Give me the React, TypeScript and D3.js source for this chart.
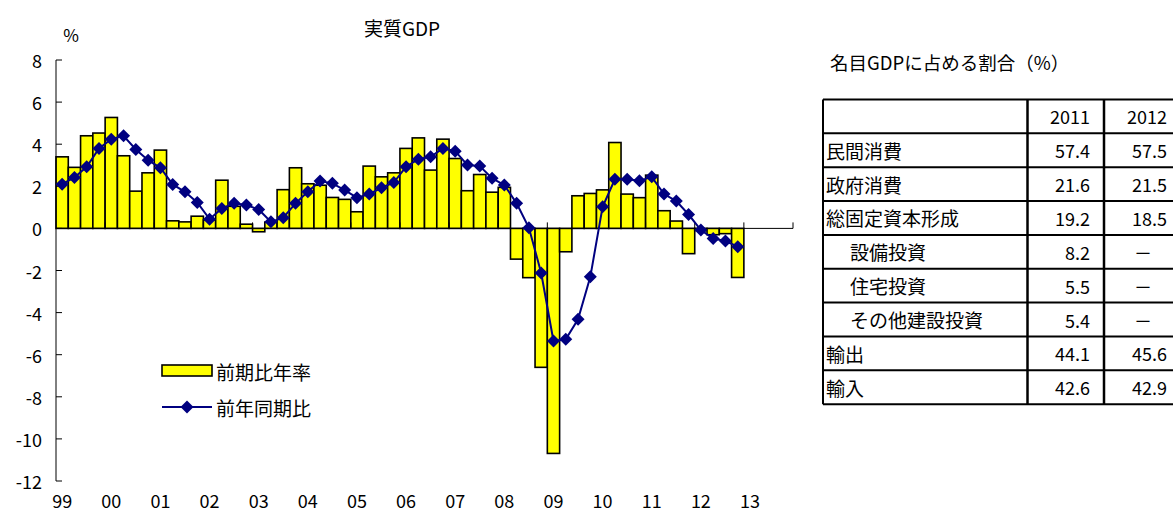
import React from "react";
import * as d3 from "d3";

const yearLabels = ["99", "00", "01", "02", "03", "04", "05", "06", "07", "08", "09", "10", "11", "12", "13"];
const quarters = ["Q1", "Q2", "Q3", "Q4"];
const categories = yearLabels.flatMap((y) => quarters.map((q) => `${y}${q}`));

// 前期比年率 (quarter-on-quarter, annualized), 1999Q1 – 2012Q4
const qoqAnnualized = [
  3.4, 2.9, 4.4, 4.53, 5.27, 3.45, 1.77, 2.64, 3.72, 0.36, 0.31, 0.58,
  0.4, 2.29, 1.05, 0.2, -0.16, 0.3, 1.84, 2.88, 2.12, 2.05, 1.47, 1.38,
  0.79, 2.96, 2.45, 2.64, 3.8, 4.3, 2.77, 4.24, 3.32, 1.79, 2.56, 1.72,
  1.95, -1.46, -2.34, -6.6, -10.69, -1.11, 1.55, 1.66, 1.83, 4.08, 1.63, 1.46,
  2.53, 0.84, 0.35, -1.2, -0.1, -0.3, -0.25, -2.33,
];
// 前年同期比 (year-on-year)
const yoy = [
  2.1, 2.42, 2.93, 3.8, 4.24, 4.4, 3.75, 3.24, 2.88, 2.09, 1.74, 1.23,
  0.44, 0.95, 1.19, 1.11, 0.9, 0.31, 0.51, 1.19, 1.74, 2.25, 2.14, 1.82,
  1.46, 1.63, 1.93, 2.18, 2.93, 3.29, 3.4, 3.8, 3.67, 3.01, 2.96, 2.38,
  2.06, 1.19, 0.03, -2.12, -5.35, -5.27, -4.32, -2.3, 1.03, 2.33, 2.33, 2.26,
  2.45, 1.63, 1.3, 0.66, -0.08, -0.48, -0.6, -0.87,
];
const yTicks = [8, 6, 4, 2, 0, -2, -4, -6, -8, -10, -12];

const seriesNames = ["前期比年率", "前年同期比"];

// Table
const tableTitle = "名目GDPに占める割合（%）";
const tableYears = ["2011", "2012"];
const tableRows = ["民間消費", "政府消費", "総固定資本形成", "設備投資", "住宅投資", "その他建設投資", "輸出", "輸入"];
const tableIndent = [false, false, false, true, true, true, false, false];
const values2011 = ["57.4", "21.6", "19.2", "8.2", "5.5", "5.4", "44.1", "42.6"];
const values2012 = ["57.5", "21.5", "18.5", "－", "－", "－", "45.6", "42.9"];

const FONT = "'Noto Sans CJK JP', 'Noto Sans', sans-serif";

export default function App() {
  const W = 1173;
  const H = 514;
  const x = d3.scaleBand<string>().domain(categories).range([56, 793]).padding(0);
  const y = d3.scaleLinear().domain([-12, 8]).range([481, 60]);
  const bw = x.bandwidth();
  const cx = (i: number) => (x(categories[i]) as number) + bw / 2;

  const line = d3
    .line<number>()
    .x((_, i) => cx(i))
    .y((d) => y(d));

  const diamond = (px: number, py: number, r = 6.5) =>
    `M${px},${py - r}L${px + r},${py}L${px},${py + r}L${px - r},${py}Z`;

  // table geometry
  const colX = [823, 1027.5, 1104, 1180];
  const rowY0 = 99.5;
  const rowH = 33.85;
  const nRows = tableRows.length + 1;

  return (
    <svg
      width={W}
      height={H}
      style={{ position: "absolute", left: 0, top: 0, display: "block", background: "#fff" }}
      fontFamily={FONT}
    >
      <rect x={0} y={0} width={W} height={H} fill="#fff" />
      {/* title */}
      <text x={402} y={27} fontSize={19} textAnchor="middle" dominantBaseline="central" fill="#000">
        実質GDP
      </text>
      <text x={71} y={34} fontSize={17} textAnchor="middle" dominantBaseline="central" fill="#000">
        %
      </text>

      {/* bars */}
      {qoqAnnualized.map((v, i) => (
        <rect
          key={"b" + i}
          x={x(categories[i])}
          y={Math.min(y(v), y(0))}
          width={bw}
          height={Math.abs(y(v) - y(0))}
          fill="#ffff00"
          stroke="#000"
          strokeWidth={1.6}
        />
      ))}

      {/* y axis */}
      <line x1={56} x2={56} y1={y(8)} y2={y(-12)} stroke="#000" strokeWidth={1} />
      {yTicks.map((t) => (
        <g key={"yt" + t}>
          <line x1={56} x2={62} y1={y(t)} y2={y(t)} stroke="#000" strokeWidth={1} />
          <text x={42} y={y(t)} fontSize={18} textAnchor="end" dominantBaseline="central" fill="#000">
            {t < 0 ? "-" + Math.abs(t) : String(t)}
          </text>
        </g>
      ))}

      {/* zero line & x ticks */}
      <line x1={56} x2={793} y1={y(0)} y2={y(0)} stroke="#000" strokeWidth={1} />
      {yearLabels.map((yl, k) => {
        const xs = x(categories[k * 4]) as number;
        return (
          <g key={"xt" + yl}>
            {k > 0 && <line x1={xs} x2={xs} y1={y(0)} y2={y(0) - 6} stroke="#000" strokeWidth={1} />}
            <text x={cx(k * 4)} y={500} fontSize={18} textAnchor="middle" dominantBaseline="central" fill="#000">
              {yl}
            </text>
          </g>
        );
      })}
      <line x1={793} x2={793} y1={y(0)} y2={y(0) - 6} stroke="#000" strokeWidth={1} />

      {/* line series */}
      <path d={line(yoy) || ""} fill="none" stroke="#000080" strokeWidth={2} />
      {yoy.map((v, i) => (
        <path key={"d" + i} d={diamond(cx(i), y(v))} fill="#000080" />
      ))}

      {/* legend */}
      <rect x={162} y={365} width={50} height={11} fill="#ffff00" stroke="#000" strokeWidth={1.6} />
      <text x={216} y={371} fontSize={19} dominantBaseline="central" fill="#000">
        {seriesNames[0]}
      </text>
      <line x1={162} x2={212} y1={407} y2={407} stroke="#000080" strokeWidth={2} />
      <path d={diamond(187, 407)} fill="#000080" />
      <text x={216} y={407} fontSize={19} dominantBaseline="central" fill="#000">
        {seriesNames[1]}
      </text>

      {/* table */}
      <text x={830} y={62} fontSize={18.5} dominantBaseline="central" fill="#000">
        {tableTitle}
      </text>
      {d3.range(nRows + 1).map((r) => (
        <line
          key={"hr" + r}
          x1={colX[0]}
          x2={colX[3]}
          y1={rowY0 + r * rowH}
          y2={rowY0 + r * rowH}
          stroke="#000"
          strokeWidth={2}
        />
      ))}
      {colX.slice(0, 3).map((cxv, c) => (
        <line
          key={"vc" + c}
          x1={cxv}
          x2={cxv}
          y1={rowY0}
          y2={rowY0 + nRows * rowH}
          stroke="#000"
          strokeWidth={c === 0 ? 2 : 2.5}
        />
      ))}
      <text x={1090} y={rowY0 + rowH / 2} fontSize={18} textAnchor="end" dominantBaseline="central" fill="#000">
        {tableYears[0]}
      </text>
      <text x={1167} y={rowY0 + rowH / 2} fontSize={18} textAnchor="end" dominantBaseline="central" fill="#000">
        {tableYears[1]}
      </text>
      {tableRows.map((label, r) => {
        const yc = rowY0 + (r + 1) * rowH + rowH / 2;
        const v2 = values2012[r];
        return (
          <g key={"tr" + r}>
            <text x={tableIndent[r] ? 850 : 826} y={yc} fontSize={19} dominantBaseline="central" fill="#000">
              {label}
            </text>
            <text x={1090} y={yc} fontSize={18} textAnchor="end" dominantBaseline="central" fill="#000">
              {values2011[r]}
            </text>
            {v2 === "－" ? (
              <text x={1143} y={yc} fontSize={18} textAnchor="middle" dominantBaseline="central" fill="#000">
                {v2}
              </text>
            ) : (
              <text x={1167} y={yc} fontSize={18} textAnchor="end" dominantBaseline="central" fill="#000">
                {v2}
              </text>
            )}
          </g>
        );
      })}
    </svg>
  );
}
